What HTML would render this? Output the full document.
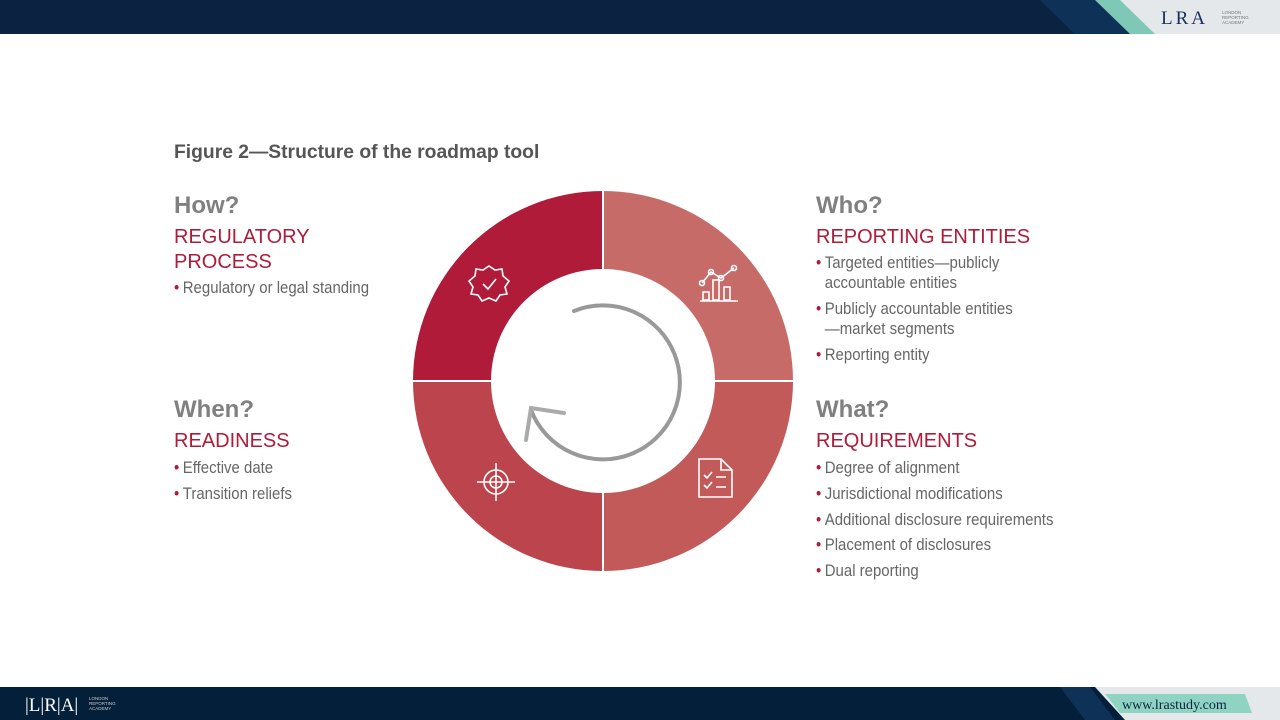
<!DOCTYPE html>
<html><head><meta charset="utf-8"><style>
body{margin:0;width:1280px;height:720px;position:relative;background:#fff;overflow:hidden;font-family:"Liberation Sans",Arial,sans-serif}
.a{position:absolute;white-space:nowrap}
.t{font-weight:bold;font-size:19.3px;color:#555;line-height:19px}
.q{font-weight:bold;font-size:24px;color:#808080;line-height:24px}
.h{font-size:20px;color:#B01B3A;line-height:20px}
.b{font-size:17px;color:#666;line-height:17px;transform:scaleX(0.88);transform-origin:left}
.b i{font-style:normal;color:#B01B3A;margin-right:4px}
</style></head><body>
<div class="a" style="left:0;top:0;width:1280px;height:34px;background:#0b2340"></div>
<svg class="a" style="left:0;top:0" width="1280" height="34">
<polygon points="1040,0 1095,0 1130,34 1075,34" fill="#0e3257"/>
<polygon points="1095,0 1140,0 1175,34 1130,34" fill="#7fc8b8"/>
<polygon points="1120,0 1280,0 1280,34 1155,34" fill="#e4e8ea"/>
<text x="1161" y="24" font-family="Liberation Serif" font-size="19" fill="#1a2e5a" letter-spacing="3">LRA</text>
<text x="1222" y="14" font-size="4.5" fill="#777">LONDON</text><text x="1222" y="19" font-size="4.5" fill="#777">REPORTING</text><text x="1222" y="24" font-size="4.5" fill="#777">ACADEMY</text>
</svg>
<div class="a" style="left:0;top:687px;width:1280px;height:33px;background:#031f3a"></div>
<svg class="a" style="left:0;top:687px" width="1280" height="33">
<polygon points="1060,0 1090,0 1115,33 1085,33" fill="#0e3257"/>
<polygon points="1095,0 1280,0 1280,33 1125,33" fill="#e4e8ea"/>
<polygon points="1105,7 1245,7 1252,26 1120,26" fill="#8fd4c2"/>
<text x="1122" y="22" font-family="Liberation Serif" font-size="14" fill="#0b2340">www.lrastudy.com</text>
<text x="25" y="24" font-family="Liberation Serif" font-size="19" fill="#fff">|L|R|A|</text>
<text x="89" y="13" font-size="4.5" fill="#ccc">LONDON</text><text x="89" y="18" font-size="4.5" fill="#ccc">REPORTING</text><text x="89" y="23" font-size="4.5" fill="#ccc">ACADEMY</text>
</svg>

<div class="a t" style="left:174px;top:143px">Figure 2—Structure of the roadmap tool</div>

<div class="a q" style="left:174px;top:194px">How?</div>
<div class="a h" style="left:174px;top:227px">REGULATORY</div>
<div class="a h" style="left:174px;top:252px">PROCESS</div>
<div class="a b" style="left:174px;top:279px"><i>•</i>Regulatory or legal standing</div>

<div class="a q" style="left:174px;top:398px">When?</div>
<div class="a h" style="left:174px;top:431px">READINESS</div>
<div class="a b" style="left:174px;top:459px"><i>•</i>Effective date</div>
<div class="a b" style="left:174px;top:485px"><i>•</i>Transition reliefs</div>

<div class="a q" style="left:816px;top:194px">Who?</div>
<div class="a h" style="left:816px;top:227px">REPORTING ENTITIES</div>
<div class="a b" style="left:816px;top:254px"><i>•</i>Targeted entities—publicly</div>
<div class="a b" style="left:816px;top:274px"><i style="visibility:hidden">•</i>accountable entities</div>
<div class="a b" style="left:816px;top:300px"><i>•</i>Publicly accountable entities</div>
<div class="a b" style="left:816px;top:320px"><i style="visibility:hidden">•</i>—market segments</div>
<div class="a b" style="left:816px;top:346px"><i>•</i>Reporting entity</div>

<div class="a q" style="left:816px;top:398px">What?</div>
<div class="a h" style="left:816px;top:431px">REQUIREMENTS</div>
<div class="a b" style="left:816px;top:459px"><i>•</i>Degree of alignment</div>
<div class="a b" style="left:816px;top:485px"><i>•</i>Jurisdictional modifications</div>
<div class="a b" style="left:816px;top:511px"><i>•</i>Additional disclosure requirements</div>
<div class="a b" style="left:816px;top:536px"><i>•</i>Placement of disclosures</div>
<div class="a b" style="left:816px;top:562px"><i>•</i>Dual reporting</div>

<svg class="a" style="left:0;top:0" width="1280" height="720">
<g transform="translate(603,381)">
<path d="M0,0 L-190,0 A190,190 0 0 1 0,-190Z" fill="#B01B3A"/>
<path d="M0,0 L0,-190 A190,190 0 0 1 190,0Z" fill="#C76B69"/>
<path d="M0,0 L190,0 A190,190 0 0 1 0,190Z" fill="#C25A5A"/>
<path d="M0,0 L0,190 A190,190 0 0 1 -190,0Z" fill="#BC444C"/>
<line x1="-190" y1="0" x2="190" y2="0" stroke="#fff" stroke-width="2"/>
<line x1="0" y1="-190" x2="0" y2="190" stroke="#fff" stroke-width="2"/>
<circle r="112" fill="#fff"/>
</g>
<path d="M574,311 A77,77 0 1 1 531,410" fill="none" stroke="#999" stroke-width="4" stroke-linecap="round"/>
<path d="M564,413 L531,408 L526,440" fill="none" stroke="#aaa" stroke-width="4" stroke-linecap="round"/>
<g fill="none" stroke="#fff" stroke-width="1.6">
<polygon points="489,266 495,270 502,269 503,276 509,281 505,287 507,294 500,295 496,301 489,298 482,301 478,295 471,294 473,287 469,281 475,276 476,269 483,270" />
<path d="M483,284 L488,289 L496,279"/>
<path d="M702,283 L711,272 L721,278 L734,268" /><circle cx="702" cy="283" r="2.5"/><circle cx="711" cy="272" r="2.5"/><circle cx="721" cy="278" r="2.5"/><circle cx="734" cy="268" r="2.5"/>
<rect x="703" y="292" width="6" height="8"/><rect x="713" y="280" width="6" height="20"/><rect x="724" y="287" width="6" height="13"/><line x1="700" y1="301" x2="738" y2="301"/>
<path d="M699,459 L721,459 L732,470 L732,497 L699,497Z"/><path d="M721,459 L721,470 L732,470"/>
<path d="M704,475 L707,478 L712,472 M704,485 L707,488 L712,482"/><path d="M716,477 L726,477 M716,487 L726,487"/>
<circle cx="496" cy="482" r="12"/><circle cx="496" cy="482" r="6"/><path d="M496,463 L496,501 M477,482 L515,482"/>
</g>
</svg>
</body></html>
